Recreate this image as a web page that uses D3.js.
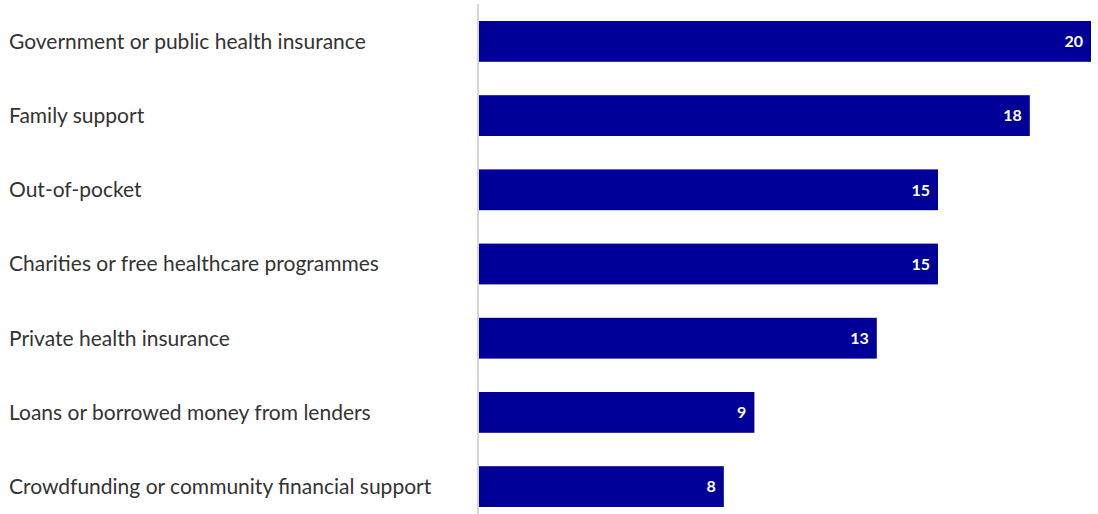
<!DOCTYPE html>
<html>
<head>
<meta charset="utf-8">
<script src="https://cdn.jsdelivr.net/npm/d3@7"></script>
<style>
  body { margin: 0; background: #fff; }
  svg { display: block; }
</style>
</head>
<body>
<div id="chart"></div>
<script>
// funding sources, top to bottom
var categories = [
  "Government or public health insurance",
  "Family support",
  "Out-of-pocket",
  "Charities or free healthcare programmes",
  "Private health insurance",
  "Loans or borrowed money from lenders",
  "Crowdfunding or community financial support"
];
var values = [20, 18, 15, 15, 13, 9, 8];

var width = 1098, height = 514;
var barLeft = 479;

var svg = d3.select("#chart")
    .append("svg")
    .attr("width", width)
    .attr("height", height);

var x = d3.scaleLinear()
    .domain([0, 20])
    .range([barLeft, 1091]);

var y = d3.scaleBand()
    .domain(categories)
    .range([21, 507])
    .paddingInner(0.45)
    .paddingOuter(0);

var data = categories.map(function (c, i) { return { cat: c, val: values[i] }; });

// left axis line
svg.append("line")
    .attr("x1", barLeft - 1)
    .attr("x2", barLeft - 1)
    .attr("y1", 4)
    .attr("y2", height)
    .attr("stroke", "#d6d6d6")
    .attr("stroke-width", 2);

svg.selectAll(".bar")
    .data(data)
    .enter()
    .append("rect")
    .attr("class", "bar")
    .attr("x", x(0))
    .attr("y", function (d) { return y(d.cat); })
    .attr("width", function (d) { return x(d.val) - x(0); })
    .attr("height", y.bandwidth())
    .attr("fill", "#000099");

svg.selectAll(".cat")
    .data(data)
    .enter()
    .append("text")
    .attr("class", "cat")
    .attr("x", 9)
    .attr("y", function (d) { return y(d.cat) + y.bandwidth() / 2; })
    .attr("dy", "0.35em")
    .style("font-family", "Lato, sans-serif")
    .style("font-size", "21px")
    .style("fill", "#333")
    .text(function (d) { return d.cat; });

svg.selectAll(".val")
    .data(data)
    .enter()
    .append("text")
    .attr("class", "val")
    .attr("x", function (d) { return x(d.val) - 8; })
    .attr("y", function (d) { return y(d.cat) + y.bandwidth() / 2; })
    .attr("dy", "0.36em")
    .style("font-family", "Lato, sans-serif")
    .style("font-size", "16px")
    .style("font-weight", "bold")
    .style("text-anchor", "end")
    .style("fill", "#fff")
    .text(function (d) { return d.val; });
</script>
</body>
</html>
